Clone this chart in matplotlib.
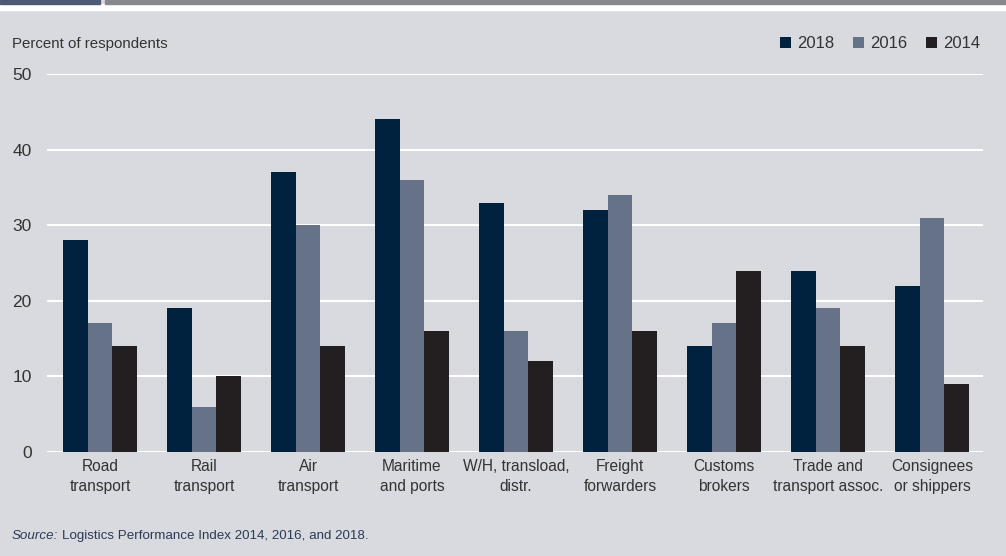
import matplotlib
matplotlib.use("Agg")
import matplotlib.pyplot as plt
import numpy as np
from matplotlib.patches import Rectangle

categories = ["Road\ntransport", "Rail\ntransport", "Air\ntransport", "Maritime\nand ports",
              "W/H, transload,\ndistr.", "Freight\nforwarders", "Customs\nbrokers",
              "Trade and\ntransport assoc.", "Consignees\nor shippers"]
series_names = ["2018", "2016", "2014"]
values_2018 = [28, 19, 37, 44, 33, 32, 14, 24, 22]
values_2016 = [17, 6, 30, 36, 16, 34, 17, 19, 31]
values_2014 = [14, 10, 14, 16, 12, 16, 24, 14, 9]
yticks = [0, 10, 20, 30, 40, 50]

colors = ["#00223f", "#667288", "#231f20"]
bg = "#d9dadf"
txt = "#333333"
src_col = "#2b3a55"

plt.rcParams['font.family'] = ['Liberation Sans', 'DejaVu Sans']

fig = plt.figure(figsize=(10.06, 5.56), dpi=100)
fig.patch.set_facecolor(bg)

# top decorative bar
fig.add_artist(Rectangle((0, 1 - 4/556), 100/1006, 4/556, transform=fig.transFigure,
                         color="#4d5a75", zorder=5))
fig.add_artist(Rectangle((105/1006, 1 - 4/556), 1, 4/556, transform=fig.transFigure,
                         color="#87888c", zorder=5))
fig.add_artist(Rectangle((0, 1 - 10/556), 1, 6/556, transform=fig.transFigure,
                         color="white", zorder=4))

ax = fig.add_axes([47/1006, 1 - 452/556, (983 - 47)/1006, (452 - 74)/556])
ax.set_facecolor(bg)
x = np.arange(len(categories))
w = 0.236
for i, (vals, c, name) in enumerate(zip([values_2018, values_2016, values_2014], colors, series_names)):
    ax.bar(x + (i - 1) * w, vals, width=w, color=c, zorder=3, label=name)

ax.set_xlim(-0.51, 8.49)
ax.set_ylim(0, 50)
ax.set_yticks(yticks)
ax.set_yticklabels([str(t) for t in yticks], fontsize=12.5, color=txt)
ax.yaxis.grid(True, color="white", linewidth=1.5, zorder=0)
ax.set_axisbelow(True)
ax.tick_params(axis="y", length=0, pad=11)
ax.tick_params(axis="x", length=0, pad=5)
ax.set_xticks(x)
ax.set_xticklabels(categories, fontsize=11.2, color=txt, linespacing=1.45)
for s in ax.spines.values():
    s.set_visible(False)

fig.text(12/1006, 1 - 44/556, "Percent of respondents", fontsize=10.8, color=txt, va="center")

leg = ax.legend(loc="center right", bbox_to_anchor=(980/1006, 1 - 44/556), bbox_transform=fig.transFigure,
                ncol=3, frameon=False, fontsize=12, handlelength=0.66, handleheight=0.66,
                handletextpad=0.35, columnspacing=1.15, borderaxespad=0, borderpad=0)
for t in leg.get_texts():
    t.set_color(txt)

t1 = fig.text(12/1006, 1 - 536/556, "Source:", fontsize=9.6, color=src_col, style="italic", va="center")
fig.canvas.draw()
bb = t1.get_window_extent()
fig.text((bb.x1 + 4) / 1006, 1 - 536/556, "Logistics Performance Index 2014, 2016, and 2018.", fontsize=9.6,
         color=src_col, va="center")

fig.savefig("out.png", dpi=100, facecolor=bg)
